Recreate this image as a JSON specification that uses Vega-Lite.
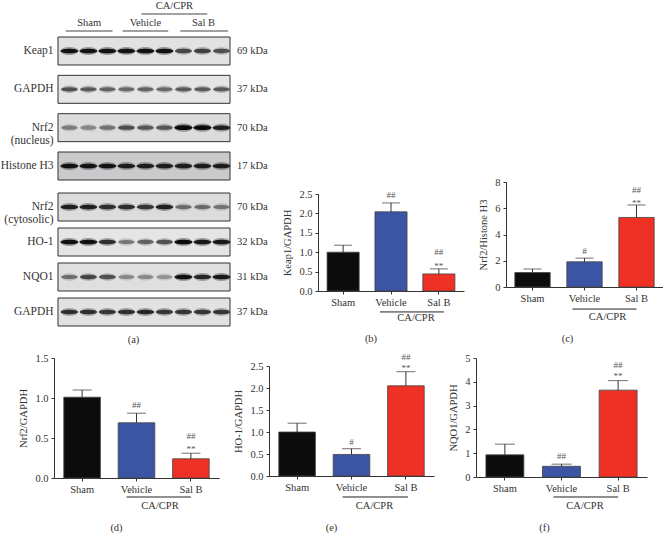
{
"$schema":"https://vega.github.io/schema/vega-lite/v6.json",
"padding":0,
"background":"white",
"config":{"font":"Liberation Serif","view":{"stroke":null},"text":{"font":"Liberation Serif","fontSize":10.5,"color":"#333"},
"axis":{"grid":false,"labelOverlap":false,"labelFont":"Liberation Serif","titleFont":"Liberation Serif","labelFontSize":10.5,"titleFontSize":10.5,"titleFontWeight":"normal","labelColor":"#333","titleColor":"#333","domainColor":"#333","tickColor":"#333","tickSize":3,"labelPadding":3,"titlePadding":6}},
"datasets":{
"rowsTop":[{"row":"Keap1","kda":"69 kDa","bg":0.3},{"row":"GAPDH","kda":"37 kDa","bg":0.25},{"row":"Nrf2|(nucleus)","kda":"70 kDa","bg":0.4},{"row":"Histone H3","kda":"17 kDa","bg":0.7}],
"rowsBot":[{"row":"Nrf2|(cytosolic)","kda":"70 kDa","bg":0.4},{"row":"HO-1","kda":"32 kDa","bg":0.25},{"row":"NQO1","kda":"31 kDa","bg":0.35},{"row":"GAPDH","kda":"37 kDa","bg":0.3}],
"bandsTop":[
{"row":"Keap1","lane":1,"v":0.95},{"row":"Keap1","lane":2,"v":0.95},{"row":"Keap1","lane":3,"v":0.95},{"row":"Keap1","lane":4,"v":0.95},{"row":"Keap1","lane":5,"v":0.95},{"row":"Keap1","lane":6,"v":0.95},{"row":"Keap1","lane":7,"v":0.6},{"row":"Keap1","lane":8,"v":0.65},{"row":"Keap1","lane":9,"v":0.55},
{"row":"GAPDH","lane":1,"v":0.55},{"row":"GAPDH","lane":2,"v":0.5},{"row":"GAPDH","lane":3,"v":0.45},{"row":"GAPDH","lane":4,"v":0.42},{"row":"GAPDH","lane":5,"v":0.45},{"row":"GAPDH","lane":6,"v":0.42},{"row":"GAPDH","lane":7,"v":0.5},{"row":"GAPDH","lane":8,"v":0.5},{"row":"GAPDH","lane":9,"v":0.5},
{"row":"Nrf2|(nucleus)","lane":1,"v":0.3},{"row":"Nrf2|(nucleus)","lane":2,"v":0.25},{"row":"Nrf2|(nucleus)","lane":3,"v":0.35},{"row":"Nrf2|(nucleus)","lane":4,"v":0.55},{"row":"Nrf2|(nucleus)","lane":5,"v":0.5},{"row":"Nrf2|(nucleus)","lane":6,"v":0.5},{"row":"Nrf2|(nucleus)","lane":7,"v":1},{"row":"Nrf2|(nucleus)","lane":8,"v":1},{"row":"Nrf2|(nucleus)","lane":9,"v":0.85},
{"row":"Histone H3","lane":1,"v":0.95},{"row":"Histone H3","lane":2,"v":0.92},{"row":"Histone H3","lane":3,"v":0.92},{"row":"Histone H3","lane":4,"v":0.85},{"row":"Histone H3","lane":5,"v":0.85},{"row":"Histone H3","lane":6,"v":0.85},{"row":"Histone H3","lane":7,"v":0.85},{"row":"Histone H3","lane":8,"v":0.85},{"row":"Histone H3","lane":9,"v":0.85}],
"bandsBot":[
{"row":"Nrf2|(cytosolic)","lane":1,"v":0.85},{"row":"Nrf2|(cytosolic)","lane":2,"v":0.85},{"row":"Nrf2|(cytosolic)","lane":3,"v":0.75},{"row":"Nrf2|(cytosolic)","lane":4,"v":0.75},{"row":"Nrf2|(cytosolic)","lane":5,"v":0.7},{"row":"Nrf2|(cytosolic)","lane":6,"v":0.85},{"row":"Nrf2|(cytosolic)","lane":7,"v":0.4},{"row":"Nrf2|(cytosolic)","lane":8,"v":0.4},{"row":"Nrf2|(cytosolic)","lane":9,"v":0.35},
{"row":"HO-1","lane":1,"v":0.95},{"row":"HO-1","lane":2,"v":0.95},{"row":"HO-1","lane":3,"v":0.75},{"row":"HO-1","lane":4,"v":0.35},{"row":"HO-1","lane":5,"v":0.45},{"row":"HO-1","lane":6,"v":0.55},{"row":"HO-1","lane":7,"v":1},{"row":"HO-1","lane":8,"v":0.9},{"row":"HO-1","lane":9,"v":0.9},
{"row":"NQO1","lane":1,"v":0.4},{"row":"NQO1","lane":2,"v":0.6},{"row":"NQO1","lane":3,"v":0.55},{"row":"NQO1","lane":4,"v":0.25},{"row":"NQO1","lane":5,"v":0.25},{"row":"NQO1","lane":6,"v":0.2},{"row":"NQO1","lane":7,"v":0.95},{"row":"NQO1","lane":8,"v":0.8},{"row":"NQO1","lane":9,"v":0.9},
{"row":"GAPDH","lane":1,"v":0.75},{"row":"GAPDH","lane":2,"v":0.75},{"row":"GAPDH","lane":3,"v":0.7},{"row":"GAPDH","lane":4,"v":0.75},{"row":"GAPDH","lane":5,"v":0.8},{"row":"GAPDH","lane":6,"v":0.7},{"row":"GAPDH","lane":7,"v":0.7},{"row":"GAPDH","lane":8,"v":0.7},{"row":"GAPDH","lane":9,"v":0.7}],
"header":[{"label":"CA/CPR","level":"top","from":4.79,"to":8.25,"mid":6.52},{"label":"Sham","level":"low","from":0.81,"to":3.27,"mid":2.04},{"label":"Vehicle","level":"low","from":3.8,"to":6.2,"mid":5},{"label":"Sal B","level":"low","from":6.83,"to":9.35,"mid":8.05}],
"b":[{"group":"Sham","value":1.0,"upper":1.18},{"group":"Vehicle","value":2.04,"upper":2.27},{"group":"Sal B","value":0.44,"upper":0.57}],
"bsig":[{"group":"Vehicle","sig":"##","at":2.47},{"group":"Sal B","sig":"##","at":1.0},{"group":"Sal B","sig":"**","at":0.65}],
"c":[{"group":"Sham","value":1.1,"upper":1.37},{"group":"Vehicle","value":1.92,"upper":2.2},{"group":"Sal B","value":5.3,"upper":6.25}],
"csig":[{"group":"Vehicle","sig":"#","at":2.74},{"group":"Sal B","sig":"##","at":7.4},{"group":"Sal B","sig":"**","at":6.4}],
"d":[{"group":"Sham","value":1.01,"upper":1.1},{"group":"Vehicle","value":0.69,"upper":0.81},{"group":"Sal B","value":0.24,"upper":0.31}],
"dsig":[{"group":"Vehicle","sig":"##","at":0.91},{"group":"Sal B","sig":"##","at":0.52},{"group":"Sal B","sig":"**","at":0.36}],
"e":[{"group":"Sham","value":1.0,"upper":1.2},{"group":"Vehicle","value":0.49,"upper":0.62},{"group":"Sal B","value":2.05,"upper":2.37}],
"esig":[{"group":"Vehicle","sig":"#","at":0.77},{"group":"Sal B","sig":"##","at":2.7},{"group":"Sal B","sig":"**","at":2.45}],
"f":[{"group":"Sham","value":0.93,"upper":1.38},{"group":"Vehicle","value":0.45,"upper":0.54},{"group":"Sal B","value":3.65,"upper":4.05}],
"fsig":[{"group":"Vehicle","sig":"##","at":0.88},{"group":"Sal B","sig":"##","at":4.7},{"group":"Sal B","sig":"**","at":4.24}]
},
"spacing":1,
"align":"none",
"vconcat":[
{"spacing":14,"hconcat":[
 {"spacing":2,"vconcat":[
  {"width":176,"height":33,"data":{"name":"header"},
   "encoding":{"y":{"field":"level","type":"nominal","sort":["top","low"],"scale":{"type":"point","padding":0.47,"align":0.8125},"axis":null}},
   "layer":[
    {"mark":{"type":"rule","color":"#444","strokeWidth":1},"encoding":{"x":{"field":"from","type":"quantitative","scale":{"domain":[0.19,9.45],"nice":false},"axis":null},"x2":{"field":"to"}}},
    {"mark":{"type":"text","dy":-8,"fontSize":10.5},"encoding":{"x":{"field":"mid","type":"quantitative","scale":{"domain":[0.19,9.45],"nice":false},"axis":null},"text":{"field":"label"}}}
   ]},
   {"width":176,"height":143,
    "layer":[
     {"data":{"name":"rowsTop"},"mark":{"type":"rect","stroke":"#333","strokeWidth":1},
      "encoding":{"x":{"datum":0.4,"type":"quantitative","scale":{"domain":[0.19,9.45],"nice":false},"axis":null},"x2":{"datum":9.45},
       "y":{"field":"row","type":"nominal","sort":null,"scale":{"paddingInner":0.27,"paddingOuter":0},"axis":{"title":null,"orient":"left","domain":false,"ticks":false,"labelPadding":1,"labelFontSize":11.5,"labelExpr":"split(datum.value,'|')","labelLineHeight":13}},
       "fill":{"field":"bg","type":"quantitative","scale":{"domain":[0,1],"range":["#f4f4f4","#b8b8bc"]},"legend":null}}},
     {"data":{"name":"bandsTop"},"mark":{"type":"point","shape":"M-1,0C-0.9,-0.6 0.9,-0.6 1,0C0.9,0.6 -0.9,0.6 -1,0Z","filled":true,"color":"#111","strokeWidth":0,"opacity":1},
      "encoding":{"x":{"field":"lane","type":"quantitative","axis":null},"y":{"field":"row","type":"nominal","sort":null},
       "fillOpacity":{"field":"v","type":"quantitative","scale":{"domain":[0,1],"range":[0.05,0.35]},"legend":null},
       "size":{"field":"v","type":"quantitative","scale":{"domain":[0,1],"range":[240,330]},"legend":null}}},
     {"data":{"name":"bandsTop"},"mark":{"type":"point","shape":"M-1,0C-0.85,-0.34 0.85,-0.34 1,0C0.85,0.34 -0.85,0.34 -1,0Z","filled":true,"color":"#0a0a0a","strokeWidth":0},
      "encoding":{"x":{"field":"lane","type":"quantitative","axis":null},"y":{"field":"row","type":"nominal","sort":null},
       "opacity":{"field":"v","type":"quantitative","scale":{"domain":[0,1],"range":[0.1,1]},"legend":null},
       "size":{"field":"v","type":"quantitative","scale":{"domain":[0,1],"range":[240,330]},"legend":null}}},
     {"data":{"name":"rowsTop"},"mark":{"type":"text","align":"left","dx":7,"fontSize":10.5},
      "encoding":{"x":{"datum":9.45,"type":"quantitative","axis":null},"y":{"field":"row","type":"nominal","sort":null},"text":{"field":"kda"}}}
    ]},
   {"width":176,"height":143,
    "layer":[
     {"data":{"name":"rowsBot"},"mark":{"type":"rect","stroke":"#333","strokeWidth":1},
      "encoding":{"x":{"datum":0.4,"type":"quantitative","scale":{"domain":[0.19,9.45],"nice":false},"axis":{"title":"(a)","labels":false,"ticks":false,"domain":false,"titleX":79,"titleY":8}},"x2":{"datum":9.45},
       "y":{"field":"row","type":"nominal","sort":null,"scale":{"paddingInner":0.2,"paddingOuter":0.143,"align":1},"axis":{"title":null,"orient":"left","domain":false,"ticks":false,"labelPadding":1,"labelFontSize":11.5,"labelExpr":"split(datum.value,'|')","labelLineHeight":13}},
       "fill":{"field":"bg","type":"quantitative","scale":{"domain":[0,1],"range":["#f4f4f4","#b8b8bc"]},"legend":null}}},
     {"data":{"name":"bandsBot"},"mark":{"type":"point","shape":"M-1,0C-0.9,-0.6 0.9,-0.6 1,0C0.9,0.6 -0.9,0.6 -1,0Z","filled":true,"color":"#111","strokeWidth":0,"opacity":1},
      "encoding":{"x":{"field":"lane","type":"quantitative"},"y":{"field":"row","type":"nominal","sort":null},
       "fillOpacity":{"field":"v","type":"quantitative","scale":{"domain":[0,1],"range":[0.05,0.35]},"legend":null},
       "size":{"field":"v","type":"quantitative","scale":{"domain":[0,1],"range":[240,330]},"legend":null}}},
     {"data":{"name":"bandsBot"},"mark":{"type":"point","shape":"M-1,0C-0.85,-0.34 0.85,-0.34 1,0C0.85,0.34 -0.85,0.34 -1,0Z","filled":true,"color":"#0a0a0a","strokeWidth":0},
      "encoding":{"x":{"field":"lane","type":"quantitative"},"y":{"field":"row","type":"nominal","sort":null},
       "opacity":{"field":"v","type":"quantitative","scale":{"domain":[0,1],"range":[0.1,1]},"legend":null},
       "size":{"field":"v","type":"quantitative","scale":{"domain":[0,1],"range":[240,330]},"legend":null}}},
     {"data":{"name":"rowsBot"},"mark":{"type":"text","align":"left","dx":7,"fontSize":10.5},
      "encoding":{"x":{"datum":9.45,"type":"quantitative"},"y":{"field":"row","type":"nominal","sort":null},"text":{"field":"kda"}}}
    ]}
 ]},
 {"width":146,"height":290,
  "encoding":{"x":{"field":"group","type":"nominal","scale":{"domain":["Sham","Vehicle","Sal B"],"paddingInner":0.33,"paddingOuter":0.19},"axis":{"title":null,"labelAngle":0}}},
  "layer":[
   {"data":{"name":"b"},"mark":{"type":"bar","stroke":"#444","strokeWidth":0.8},"encoding":{"y":{"field":"value","type":"quantitative","scale":{"domain":[0,2.5],"range":[290,193],"nice":false},"axis":{"title":"Keap1/GAPDH","values":[0,0.5,1,1.5,2,2.5],"format":".1f"}},"color":{"field":"group","type":"nominal","scale":{"domain":["Sham","Vehicle","Sal B"],"range":["#0c0c0c","#3b55a4","#ee3124"]},"legend":null}}},
   {"data":{"name":"b"},"mark":{"type":"rule","color":"#333"},"encoding":{"y":{"field":"value","type":"quantitative"},"y2":{"field":"upper"}}},
   {"data":{"name":"b"},"mark":{"type":"tick","color":"#333","size":18,"thickness":1},"encoding":{"y":{"field":"upper","type":"quantitative"}}},
   {"data":{"name":"bsig"},"mark":{"type":"text","fontSize":9,"color":"#555"},"encoding":{"y":{"field":"at","type":"quantitative"},"text":{"field":"sig"}}},
   {"data":{"values":[{"group":"Vehicle","to":"Sal B","at":-0.54}]},"mark":{"type":"rule","color":"#222","xOffset":-11,"x2Offset":5},"encoding":{"y":{"field":"at","type":"quantitative"},"x2":{"field":"to"}}},
   {"data":{"values":[{"group":"Vehicle","label":"CA/CPR","at":-0.7}]},"mark":{"type":"text","dx":25},"encoding":{"y":{"field":"at","type":"quantitative"},"text":{"field":"label"}}},
   {"data":{"values":[{"group":"Vehicle","label":"(b)","at":-1.24}]},"mark":{"type":"text","dx":-20},"encoding":{"y":{"field":"at","type":"quantitative"},"text":{"field":"label"}}}
  ]},
 {"width":157,"height":286,
  "encoding":{"x":{"field":"group","type":"nominal","scale":{"domain":["Sham","Vehicle","Sal B"],"paddingInner":0.32,"paddingOuter":0.17},"axis":{"title":null,"labelAngle":0}}},
  "layer":[
   {"data":{"name":"c"},"mark":{"type":"bar","stroke":"#444","strokeWidth":0.8},"encoding":{"y":{"field":"value","type":"quantitative","scale":{"domain":[0,8],"range":[286,181],"nice":false},"axis":{"title":"Nrf2/Histone H3","values":[0,2,4,6,8]}},"color":{"field":"group","type":"nominal","scale":{"domain":["Sham","Vehicle","Sal B"],"range":["#0c0c0c","#3b55a4","#ee3124"]},"legend":null}}},
   {"data":{"name":"c"},"mark":{"type":"rule","color":"#333"},"encoding":{"y":{"field":"value","type":"quantitative"},"y2":{"field":"upper"}}},
   {"data":{"name":"c"},"mark":{"type":"tick","color":"#333","size":18,"thickness":1},"encoding":{"y":{"field":"upper","type":"quantitative"}}},
   {"data":{"name":"csig"},"mark":{"type":"text","fontSize":9,"color":"#555"},"encoding":{"y":{"field":"at","type":"quantitative"},"text":{"field":"sig"}}},
   {"data":{"values":[{"group":"Vehicle","to":"Sal B","at":-1.68}]},"mark":{"type":"rule","color":"#222","xOffset":-12,"x2Offset":0},"encoding":{"y":{"field":"at","type":"quantitative"},"x2":{"field":"to"}}},
   {"data":{"values":[{"group":"Vehicle","label":"CA/CPR","at":-2.29}]},"mark":{"type":"text","dx":23},"encoding":{"y":{"field":"at","type":"quantitative"},"text":{"field":"label"}}},
   {"data":{"values":[{"group":"Vehicle","label":"(c)","at":-3.96}]},"mark":{"type":"text","dx":-17},"encoding":{"y":{"field":"at","type":"quantitative"},"text":{"field":"label"}}}
  ]}
]},
{"spacing":14,"hconcat":[
 {"width":165,"height":132,
  "encoding":{"x":{"field":"group","type":"nominal","scale":{"domain":["Sham","Vehicle","Sal B"],"paddingInner":0.327,"paddingOuter":0.18},"axis":{"title":null,"labelAngle":0}}},
  "layer":[
   {"data":{"name":"d"},"mark":{"type":"bar","stroke":"#444","strokeWidth":0.8},"encoding":{"y":{"field":"value","type":"quantitative","scale":{"domain":[0,1.5],"range":[132,12],"nice":false},"axis":{"title":"Nrf2/GAPDH","values":[0,0.5,1,1.5],"format":".1f"}},"color":{"field":"group","type":"nominal","scale":{"domain":["Sham","Vehicle","Sal B"],"range":["#0c0c0c","#3b55a4","#ee3124"]},"legend":null}}},
   {"data":{"name":"d"},"mark":{"type":"rule","color":"#333"},"encoding":{"y":{"field":"value","type":"quantitative"},"y2":{"field":"upper"}}},
   {"data":{"name":"d"},"mark":{"type":"tick","color":"#333","size":19,"thickness":1},"encoding":{"y":{"field":"upper","type":"quantitative"}}},
   {"data":{"name":"dsig"},"mark":{"type":"text","fontSize":9,"color":"#555"},"encoding":{"y":{"field":"at","type":"quantitative"},"text":{"field":"sig"}}},
   {"data":{"values":[{"group":"Vehicle","to":"Sal B","at":-0.2375}]},"mark":{"type":"rule","color":"#222","xOffset":-10,"x2Offset":0},"encoding":{"y":{"field":"at","type":"quantitative"},"x2":{"field":"to"}}},
   {"data":{"values":[{"group":"Vehicle","label":"CA/CPR","at":-0.35}]},"mark":{"type":"text","dx":23.5},"encoding":{"y":{"field":"at","type":"quantitative"},"text":{"field":"label"}}},
   {"data":{"values":[{"group":"Vehicle","label":"(d)","at":-0.625}]},"mark":{"type":"text","dx":-20},"encoding":{"y":{"field":"at","type":"quantitative"},"text":{"field":"label"}}}
  ]},
 {"width":165,"height":130,
  "encoding":{"x":{"field":"group","type":"nominal","scale":{"domain":["Sham","Vehicle","Sal B"],"paddingInner":0.327,"paddingOuter":0.18},"axis":{"title":null,"labelAngle":0}}},
  "layer":[
   {"data":{"name":"e"},"mark":{"type":"bar","stroke":"#444","strokeWidth":0.8},"encoding":{"y":{"field":"value","type":"quantitative","scale":{"domain":[0,2.5],"range":[130,20],"nice":false},"axis":{"title":"HO-1/GAPDH","tickCount":6,"values":[0,0.5,1,1.5,2,2.5],"format":".1f"}},"color":{"field":"group","type":"nominal","scale":{"domain":["Sham","Vehicle","Sal B"],"range":["#0c0c0c","#3b55a4","#ee3124"]},"legend":null}}},
   {"data":{"name":"e"},"mark":{"type":"rule","color":"#333"},"encoding":{"y":{"field":"value","type":"quantitative","axis":{"tickCount":6,"values":[0,0.5,1,1.5,2,2.5]}},"y2":{"field":"upper"}}},
   {"data":{"name":"e"},"mark":{"type":"tick","color":"#333","size":19,"thickness":1},"encoding":{"y":{"field":"upper","type":"quantitative","axis":{"tickCount":6,"values":[0,0.5,1,1.5,2,2.5]}}}},
   {"data":{"name":"esig"},"mark":{"type":"text","fontSize":9,"color":"#555"},"encoding":{"y":{"field":"at","type":"quantitative","axis":{"tickCount":6,"values":[0,0.5,1,1.5,2,2.5]}},"text":{"field":"sig"}}},
   {"data":{"values":[{"group":"Vehicle","to":"Sal B","at":-0.477}]},"mark":{"type":"rule","color":"#222","xOffset":-9,"x2Offset":2},"encoding":{"y":{"field":"at","type":"quantitative","axis":{"tickCount":6,"values":[0,0.5,1,1.5,2,2.5]}},"x2":{"field":"to"}}},
   {"data":{"values":[{"group":"Vehicle","label":"CA/CPR","at":-0.68}]},"mark":{"type":"text","dx":23},"encoding":{"y":{"field":"at","type":"quantitative","axis":{"tickCount":6,"values":[0,0.5,1,1.5,2,2.5]}},"text":{"field":"label"}}},
   {"data":{"values":[{"group":"Vehicle","label":"(e)","at":-1.18}]},"mark":{"type":"text","dx":-20},"encoding":{"y":{"field":"at","type":"quantitative","axis":{"tickCount":6,"values":[0,0.5,1,1.5,2,2.5]}},"text":{"field":"label"}}}
  ]},
 {"width":171,"height":131,
  "encoding":{"x":{"field":"group","type":"nominal","scale":{"domain":["Sham","Vehicle","Sal B"],"paddingInner":0.33,"paddingOuter":0.175},"axis":{"title":null,"labelAngle":0}}},
  "layer":[
   {"data":{"name":"f"},"mark":{"type":"bar","stroke":"#444","strokeWidth":0.8},"encoding":{"y":{"field":"value","type":"quantitative","scale":{"domain":[0,5],"range":[131,12],"nice":false},"axis":{"title":"NQO1/GAPDH","tickCount":6,"values":[0,1,2,3,4,5]}},"color":{"field":"group","type":"nominal","scale":{"domain":["Sham","Vehicle","Sal B"],"range":["#0c0c0c","#3b55a4","#ee3124"]},"legend":null}}},
   {"data":{"name":"f"},"mark":{"type":"rule","color":"#333"},"encoding":{"y":{"field":"value","type":"quantitative","axis":{"tickCount":6,"values":[0,1,2,3,4,5]}},"y2":{"field":"upper"}}},
   {"data":{"name":"f"},"mark":{"type":"tick","color":"#333","size":20,"thickness":1},"encoding":{"y":{"field":"upper","type":"quantitative","axis":{"tickCount":6,"values":[0,1,2,3,4,5]}}}},
   {"data":{"name":"fsig"},"mark":{"type":"text","fontSize":9,"color":"#555"},"encoding":{"y":{"field":"at","type":"quantitative","axis":{"tickCount":6,"values":[0,1,2,3,4,5]}},"text":{"field":"sig"}}},
   {"data":{"values":[{"group":"Vehicle","to":"Sal B","at":-0.84}]},"mark":{"type":"rule","color":"#222","xOffset":-8,"x2Offset":0},"encoding":{"y":{"field":"at","type":"quantitative","axis":{"tickCount":6,"values":[0,1,2,3,4,5]}},"x2":{"field":"to"}}},
   {"data":{"values":[{"group":"Vehicle","label":"CA/CPR","at":-1.22}]},"mark":{"type":"text","dx":23.5},"encoding":{"y":{"field":"at","type":"quantitative","axis":{"tickCount":6,"values":[0,1,2,3,4,5]}},"text":{"field":"label"}}},
   {"data":{"values":[{"group":"Vehicle","label":"(f)","at":-2.13}]},"mark":{"type":"text","dx":-17},"encoding":{"y":{"field":"at","type":"quantitative","axis":{"tickCount":6,"values":[0,1,2,3,4,5]}},"text":{"field":"label"}}}
  ]}
]}
]
}
